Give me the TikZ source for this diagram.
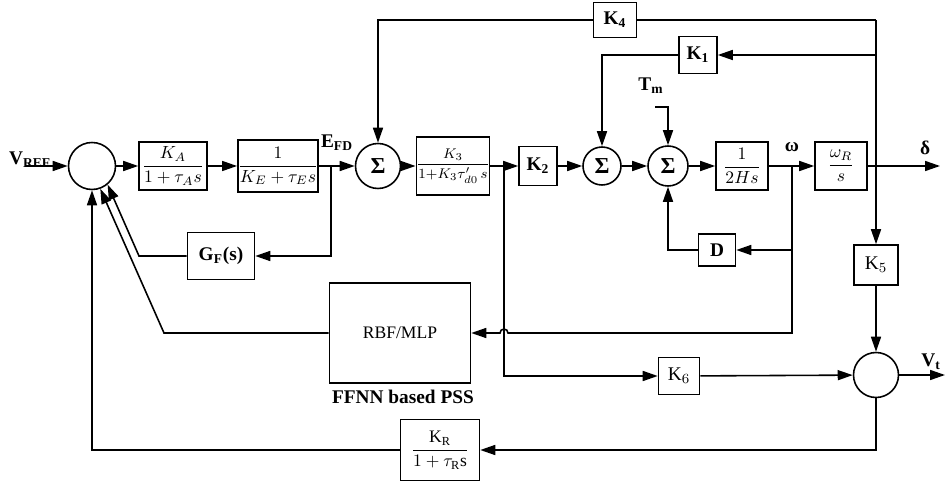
\documentclass[tikz,border=0pt]{standalone}
\usepackage{amsmath,amssymb}
\usepackage{fontspec}
\setmainfont{Liberation Serif}
\usetikzlibrary{arrows.meta}

\begin{document}
\begin{tikzpicture}[x=0.02cm, y=-0.02cm, >={Triangle[length=3mm,width=2mm]}, line width=0.9pt,
  every node/.style={font=\fontsize{11}{13}\selectfont\bfseries, inner sep=0pt},
  blk/.style={draw, line width=0.9pt},
  frac/.style={font=\fontsize{10}{12}\selectfont},
  sumc/.style={draw, circle, line width=0.9pt, font=\fontsize{13}{15}\selectfont\bfseries}]
  \useasboundingbox (0,0) rectangle (945,482);
  % main row
  \node[sumc, minimum size=9.4mm] (sv) at (92,166) {};
  \node[blk, frac, minimum width=13.6mm, minimum height=9.6mm] (ka) at (173,166) {$\dfrac{K_A}{1+\tau_A s}$};
  \node[blk, frac, minimum width=15.8mm, minimum height=10.4mm] (ke) at (278,166) {$\dfrac{1}{K_E+\tau_E s}$};
  \node[sumc, minimum size=9mm] (s1) at (378,166) {Σ};
  \node[blk, font=\fontsize{8.5}{10}\selectfont, minimum width=14.6mm, minimum height=11.6mm] (k3) at (453,166) {$\dfrac{K_3}{1{+}K_3\tau_{d0}^{\prime}\,s}$};
  \node[blk, minimum width=7.6mm, minimum height=7.8mm] (k2) at (538,166) {K$_{\mathbf 2}$};
  \node[sumc, minimum size=7.6mm] (s2) at (602,166) {Σ};
  \node[sumc, minimum size=8mm] (s3) at (668,166) {Σ};
  \node[blk, frac, minimum width=10.4mm, minimum height=9.6mm] (h) at (742,166) {$\dfrac{1}{2Hs}$};
  \node[blk, frac, minimum width=10.4mm, minimum height=9.6mm] (wr) at (841,166) {$\dfrac{\omega_R}{s}$};
  % feedback blocks
  \node[blk, minimum width=8.6mm, minimum height=7mm] (k4) at (615,20) {K$_{\mathbf 4}$};
  \node[blk, minimum width=7.6mm, minimum height=7.4mm] (k1) at (698,55) {K$_{\mathbf 1}$};
  \node[blk, minimum width=7.4mm, minimum height=6.4mm] (d) at (717,250) {D};
  \node[blk, minimum width=13.4mm, minimum height=9.4mm] (gf) at (221,256) {G$_{\mathbf F}$(s)};
  \node[blk, font=\fontsize{10}{12}\selectfont, minimum width=28.2mm, minimum height=20mm] (rbf) at (400,333) {RBF/MLP};
  \node[blk, font=\fontsize{11}{13}\selectfont, minimum width=8.2mm, minimum height=7.4mm] (k6) at (679,376) {K$_6$};
  \node[blk, font=\fontsize{11}{13}\selectfont, minimum width=8.8mm, minimum height=8mm] (k5) at (876,265) {K$_5$};
  \node[sumc, minimum size=9mm] (vt) at (876,375) {};
  \node[blk, font=\fontsize{10}{12}\selectfont, minimum width=15.8mm, minimum height=12.2mm] (kr) at (440,450) {$\dfrac{\mathrm{K_R}}{1+\tau_{\mathrm{R}}\mathrm{s}}$};
  % labels
  \node (lvref) at (30,160) {V$_{\mathbf{REF}}$};
  \node (lefd) at (337,143) {E$_{\mathbf{FD}}$};
  \node (ltm) at (651,86) {T$_{\mathbf m}$};
  \node (lw) at (792,147) {ω};
  \node (ldelta) at (925,148) {δ};
  \node (lvt) at (931,362) {V$_{\mathbf t}$};
  \node (lpss) at (403,397) {FFNN based PSS};
  % points
  \coordinate (vin) at (25,166);
  \coordinate (be) at (331,166);
  \coordinate (gfc) at (139,256);
  \coordinate (rbfc) at (164,333);
  \coordinate (b3) at (504,166);
  \coordinate (bw) at (792,166);
  \coordinate (bwl) at (792,333);
  \coordinate (hop) at (508,333);
  \coordinate (dout) at (940,166);
  \coordinate (tr) at (876,20);
  \coordinate (k1in) at (876,55);
  \coordinate (tmin) at (655,107);
  \coordinate (vtout) at (945,375);
  % forward path
  \draw[->] (vin) -- (sv);
  \draw[->] (sv) -- (ka);
  \draw[->] (ka) -- (ke);
  \draw[->] (ke) -- (s1);
  \draw[->] (s1) -- (k3);
  \draw[->] (k3) -- (k2);
  \draw[->] (k2) -- (s2);
  \draw[->] (s2) -- (s3);
  \draw[->] (s3) -- (h);
  \draw[->] (h) -- (wr);
  \draw[->] (wr) -- (dout);
  \draw[->] (tmin) -| (s3);
  % K1, K4, K5 loops
  \draw (tr) -- (k4);
  \draw[->] (k4) -| (s1);
  \draw[->] (tr) -- (k5);
  \draw[->] (k1in) -- (k1);
  \draw[->] (k1) -| (s2);
  \draw[->] (k5) -- (vt);
  % damping and PSS
  \draw[->] (bw) |- (d);
  \draw[->] (d) -| (s3);
  \draw[->] (bw) -- (bwl) -- (hop) arc[start angle=0, end angle=180, radius=0.08cm] -- (rbf);
  \draw[->] (rbf) -- (rbfc) -- (sv.-70);
  % excitation feedback
  \draw[->] (be) |- (gf);
  \draw[->] (gf) -- (gfc) -- (sv.-50);
  \draw[->] (b3) |- (k6);
  \draw[->] (k6) -- (vt);
  \draw[->] (vt) -- (vtout);
  \draw[->] (vt) |- (kr);
  \draw[->] (kr) -| (sv);
\end{tikzpicture}
\end{document}
